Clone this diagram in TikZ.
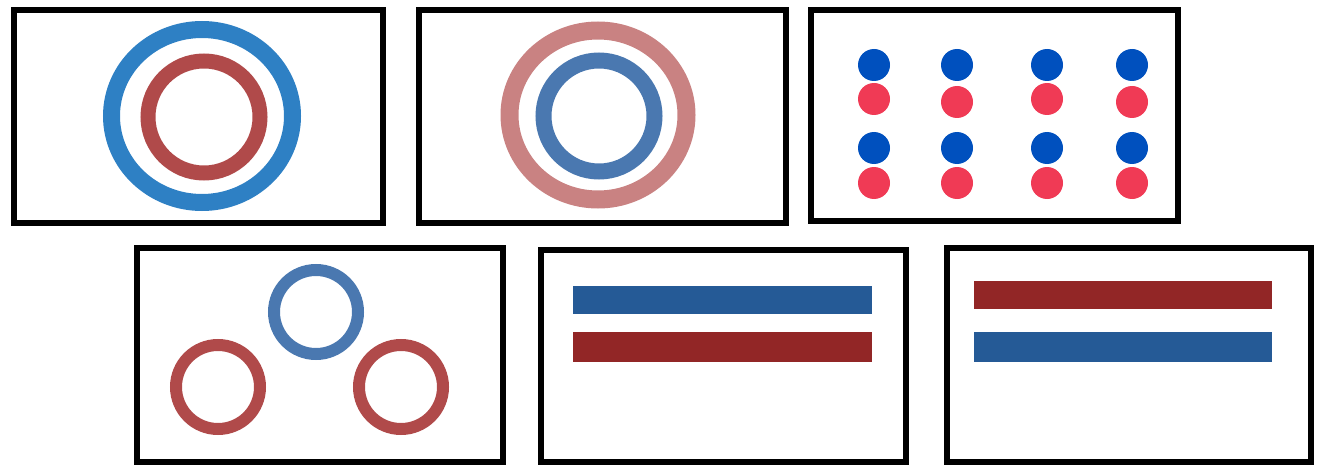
\documentclass[tikz,border=0pt]{standalone}
\usepackage{xcolor}
\usepackage{tikz}

\definecolor{ringblue}{RGB}{46,128,196}
\definecolor{ringred}{RGB}{176,74,74}
\definecolor{ringpink}{RGB}{201,130,130}
\definecolor{ringsteel}{RGB}{74,120,176}
\definecolor{dotblue}{RGB}{0,80,190}
\definecolor{dotred}{RGB}{240,58,85}
\definecolor{barblue}{RGB}{37,90,150}
\definecolor{barred}{RGB}{146,38,38}

\begin{document}
\begin{tikzpicture}[
    x=0.5pt,
    y=-0.5pt,
    frame/.style={draw=black, line width=3.2pt},
    ring/.style={line width=#1*0.5pt},
    dot/.style={fill=#1}
]
    \useasboundingbox (0,0) rectangle (1322,465);

    % --- Top row: nested rings ---
    \draw[frame] (14,10) rectangle (383,223);
    \draw[ringblue, ring=17] (202,116) ellipse [x radius=90.5, y radius=86.5];
    \draw[ringred, ring=15] (204,117) circle [radius=56];

    \draw[frame] (419,10) rectangle (786,223);
    \draw[ringpink, ring=18] (598,115) ellipse [x radius=88.5, y radius=84.5];
    \draw[ringsteel, ring=16] (599,116) circle [radius=55.5];

    % --- Top row: dot grid ---
    \draw[frame] (811,10) rectangle (1178,221);
    \foreach \x/\dy in {874/0, 957/3, 1047/0, 1132/3} {
        \fill[dot=dotblue] (\x,65) circle [radius=16];
        \fill[dot=dotred] (\x,99+\dy) circle [radius=16];
        \fill[dot=dotblue] (\x,148) circle [radius=16];
        \fill[dot=dotred] (\x,183) circle [radius=16];
    }

    % --- Bottom row: three rings ---
    \draw[frame] (137,248) rectangle (503,462);
    \draw[ringsteel, ring=12] (316,312) circle [radius=42];
    \draw[ringred, ring=12] (218,387) circle [radius=42];
    \draw[ringred, ring=12] (401,387) circle [radius=42];

    % --- Bottom row: bars ---
    \draw[frame] (541,250) rectangle (906,462);
    \fill[barblue] (573,286) rectangle (872,314);
    \fill[barred] (573,332) rectangle (872,362);

    \draw[frame] (947,248) rectangle (1311,462);
    \fill[barred] (974,281) rectangle (1272,309);
    \fill[barblue] (974,332) rectangle (1272,362);
\end{tikzpicture}
\end{document}
